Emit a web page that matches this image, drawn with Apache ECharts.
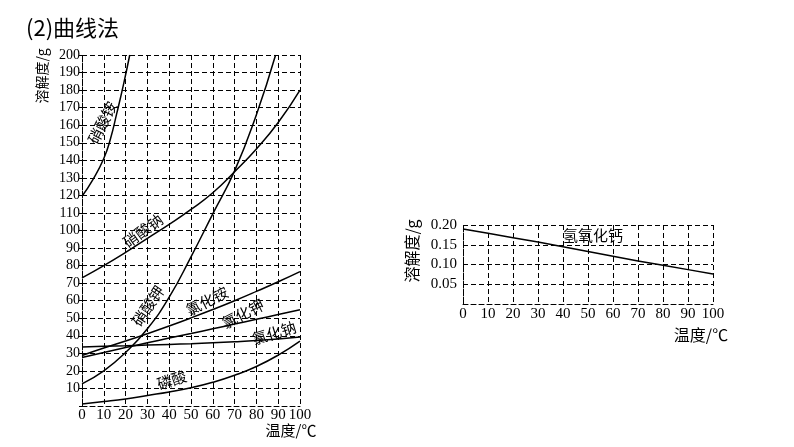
<!DOCTYPE html>
<html><head><meta charset="utf-8">
<script src="https://cdn.jsdelivr.net/npm/echarts@6/dist/echarts.min.js"></script>
<style>html,body{margin:0;padding:0;background:#fff}#c{width:794px;height:447px}</style>
</head><body><div id="c"></div>
<script>
// ---- data (temperature °C, solubility g) ----
const temps = [0,10,20,30,40,50,60,70,80,90,100];
const xTicks = ['0','10','20','30','40','50','60','70','80','90','100'];
const nh4no3 = [[0,119.5],[5,129],[10,141],[13,152],[16,167],[19,183],[21.9,200]];
const kno3 = [[0,12.6],[10,20],[20,30.5],[30,44],[40,62],[50,85],[60,109.5],[70,134],[80,166],[88.8,200]];
const nano3 = [73,80,87.5,95.5,103.5,112,121.5,133.5,146.5,161.5,180];
const nh4cl = [28.8,33,37,41.2,45.6,50.2,55,60,65.3,70.8,76.6];
const kcl = [27.6,30.5,33.3,36,38.7,41.3,44,46.7,49.4,52.1,54.8];
const nacl = [33.6,34,34.3,34.7,35.1,35.5,36,36.6,37.3,38.2,39.3];
const h3po4 = [1.2,2.5,4,6,8,10.4,13.5,17.5,22.5,29,37];
const caoh2 = [0.19,0.179,0.168,0.157,0.145,0.133,0.121,0.109,0.098,0.087,0.076];
const names = ['硝酸铵','硝酸钾','硝酸钠','氯化铵','氯化钾','氯化钠','磷酸','氢氧化钙'];

const pair = arr => arr.map((v,i)=>[temps[i],v]);
const SERIF = '"Liberation Serif","DejaVu Serif",serif';
const CJK = '"Noto Sans CJK SC","Noto Sans",sans-serif';
const dash = {color:'#000',width:1,type:[5,3]};

const chart = echarts.init(document.getElementById('c'),null,{renderer:'canvas'});
function axisX(grid, fs, margin){
  return {type:'value',gridIndex:grid,min:0,max:100,interval:10,
    axisLine:{show:true,lineStyle:dash},axisTick:{show:false},
    splitLine:{show:true,lineStyle:dash},
    axisLabel:{color:'#000',fontFamily:SERIF,fontSize:fs,margin:margin,
      formatter:v=>xTicks[Math.round(v/10)]}};
}
const lineS = (name,data,xi,yi)=>({type:'line',name,xAxisIndex:xi,yAxisIndex:yi,data,
  smooth:0.5,symbol:'none',clip:true,lineStyle:{color:'#000',width:1.5},silent:true,animation:false});

chart.setOption({
  animation:false,
  backgroundColor:'#fff',
  grid:[{left:82,top:55,width:218,height:351},{left:463,top:225,width:250,height:79}],
  xAxis:[axisX(0,15,2),axisX(1,15,3)],
  yAxis:[
    {type:'value',gridIndex:0,min:0,max:200,interval:10,
     axisLine:{show:true,lineStyle:dash},axisTick:{show:true,length:3,lineStyle:{color:'#000',width:1}},
     splitLine:{show:true,lineStyle:dash},
     axisLabel:{color:'#000',fontFamily:SERIF,fontSize:14,margin:2,formatter:v=>v===0?'':String(v)}},
    {type:'value',gridIndex:1,min:0,max:0.2,interval:0.05,
     axisLine:{show:true,lineStyle:dash},axisTick:{show:false},
     splitLine:{show:true,lineStyle:dash},
     axisLabel:{color:'#000',fontFamily:SERIF,fontSize:15,margin:6,formatter:v=>v<1e-9?'':v.toFixed(2)}}
  ],
  series:[
    lineS(names[0],nh4no3,0,0),
    lineS(names[1],kno3,0,0),
    lineS(names[2],pair(nano3),0,0),
    lineS(names[3],pair(nh4cl),0,0),
    lineS(names[4],pair(kcl),0,0),
    lineS(names[5],pair(nacl),0,0),
    lineS(names[6],pair(h3po4),0,0),
    Object.assign(lineS(names[7],pair(caoh2),1,1),{smooth:false})
  ]
});

// label placements in data coordinates [series index, [x, y], rotation deg]
const labelPos = [
  [0,[9.3,161.5],63],[1,[30.3,57],56],[2,[27.9,99.8],36],[3,[57.3,59.8],27],
  [4,[73.8,52.5],27],[5,[88.1,41.6],17],[6,[41.2,14.8],18]
];
const g = [];
labelPos.forEach(([i,c,rot])=>{
  const p = chart.convertToPixel({gridIndex:0},c);
  g.push({type:'text',x:p[0],y:p[1],rotation:rot*Math.PI/180,
    style:{text:names[i],font:'15px '+CJK,fill:'#000',textAlign:'center',textVerticalAlign:'middle'}});
});
const pc = chart.convertToPixel({gridIndex:1},[52,0.175]);
g.push({type:'text',x:pc[0],y:pc[1],style:{text:names[7],font:'15px '+CJK,fill:'#000',textAlign:'center',textVerticalAlign:'middle'}});
// title and axis names
g.push({type:'text',left:26,top:17,style:{text:'(2)曲线法',font:'22px '+CJK,fill:'#000'}});
g.push({type:'text',x:42,y:76,rotation:Math.PI/2,style:{text:'溶解度/g',font:'14px '+CJK,fill:'#000',textAlign:'center',textVerticalAlign:'middle'}});
g.push({type:'text',x:412,y:251,rotation:Math.PI/2,style:{text:'溶解度/g',font:'16px '+CJK,fill:'#000',textAlign:'center',textVerticalAlign:'middle'}});
g.push({type:'text',x:291,y:430,style:{text:'温度/℃',font:'15px '+CJK,fill:'#000',textAlign:'center',textVerticalAlign:'middle'}});
g.push({type:'text',x:701,y:335,style:{text:'温度/℃',font:'16px '+CJK,fill:'#000',textAlign:'center',textVerticalAlign:'middle'}});
chart.setOption({graphic:g});
</script>
</body></html>
